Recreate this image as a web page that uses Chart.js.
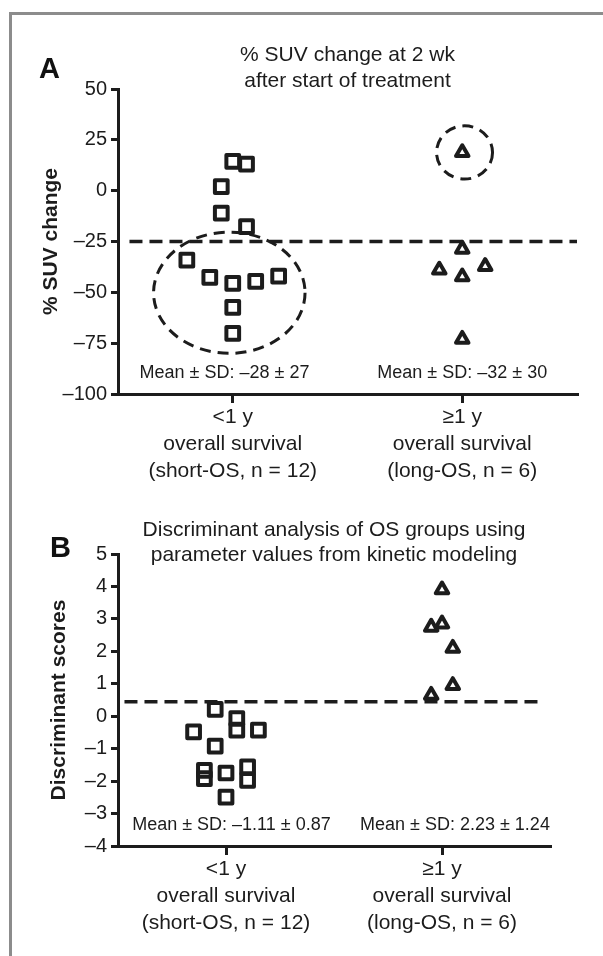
<!DOCTYPE html>
<html>
<head>
<meta charset="utf-8">
<title>SUV change and discriminant scores by OS group</title>
<script src="https://cdn.jsdelivr.net/npm/chart.js@4.4.0/dist/chart.umd.min.js"></script>
<style>
  body { margin: 0; background: #fff; width: 603px; height: 956px; overflow: hidden; position: relative;
         font-family: 'Liberation Sans', Arial, Helvetica, sans-serif; }
  .frame { position: absolute; left: 9px; top: 12px; width: 700px; height: 1000px;
           border-left: 3px solid #8c8c8c; border-top: 3px solid #8c8c8c; }
  .panel { position: absolute; left: 0; }
  .letter { position: absolute; font-weight: bold; font-size: 29px; color: #111; }
</style>
</head>
<body>
<div class="frame"></div>
<div class="panel" style="top:0"><canvas id="chartA" width="603" height="490"></canvas></div>
<div class="panel" style="top:480px"><canvas id="chartB" width="603" height="476"></canvas></div>
<div class="letter" style="left:39px;top:52px">A</div>
<div class="letter" style="left:50px;top:531px">B</div>

<script>
// ---- data ----
var groupPositions = [0, 1];
var groupLabels = [
    ['<1 y', 'overall survival', '(short-OS, n = 12)'],
    ['\u22651 y', 'overall survival', '(long-OS, n = 6)']
];

// panel A: % SUV change at 2 wk
var shortJitterA = [0, 0.06, -0.05, -0.05, 0.06, -0.2, -0.1, 0, 0.1, 0.2, 0, 0];
var shortSuvChange = [14.4, 13.1, 2.0, -11.0, -17.7, -34.1, -42.6, -45.6, -44.6, -42.0, -57.4, -70.2];
var longJitterA = [0, 0, -0.1, 0, 0.1, 0];
var longSuvChange = [18.8, -28.7, -39.0, -42.3, -37.2, -73.0];
var cutoffA = -25;
var meanTextA = ['Mean \u00b1 SD: \u201328 \u00b1 27', 'Mean \u00b1 SD: \u201332 \u00b1 30'];

// panel B: discriminant scores
var shortJitterB = [-0.05, 0.05, 0.05, -0.15, 0.15, -0.05, -0.1, -0.1, 0, 0.1, 0.1, 0];
var shortScores = [0.21, -0.07, -0.43, -0.48, -0.43, -0.92, -1.67, -1.92, -1.75, -1.56, -1.98, -2.49];
var longJitterB = [0, -0.05, 0, 0.05, 0.05, -0.05];
var longScores = [3.9, 2.75, 2.85, 2.1, 0.95, 0.65];
var cutoffB = 0.45;
var meanTextB = ['Mean \u00b1 SD: \u20131.11 \u00b1 0.87', 'Mean \u00b1 SD: 2.23 \u00b1 1.24'];

// dashed rings drawn round groups in panel A (data units)
var ringX = [-0.015, 1.01];
var ringY = [-50.2, 18.8];
var ringRadiusX = [0.33, 0.122];
var ringRadiusY = [29.8, 13.1];

var FONT = "'Liberation Sans', Arial, Helvetica, sans-serif";
var INK = '#1c1c1c';

function toPoints(centre, jitter, values) {
    var pts = [];
    for (var i = 0; i < values.length; i++) {
        pts.push({ x: centre + jitter[i], y: values[i] });
    }
    return pts;
}

function dashMinus(v) {
    return v < 0 ? '\u2013' + Math.abs(v) : String(v);
}

// draws the dashed rings and the mean +/- SD notes through the chart's scales
var panelNotes = {
    id: 'panelNotes',
    beforeDatasetsDraw: function (chart) {
        // rounded corners on the square / triangle outlines
        chart.ctx.lineJoin = 'round';
    },
    afterDatasetsDraw: function (chart, args, opts) {
        var ctx = chart.ctx;
        var xs = chart.scales.x, ys = chart.scales.y;
        ctx.save();
        var rings = opts.rings || [];
        for (var i = 0; i < rings.length; i++) {
            var r = rings[i];
            var cx = xs.getPixelForValue(r.x), cy = ys.getPixelForValue(r.y);
            var rx = Math.abs(xs.getPixelForValue(r.x + r.rx) - cx);
            var ry = Math.abs(ys.getPixelForValue(r.y + r.ry) - cy);
            ctx.beginPath();
            ctx.setLineDash([11, 7]);
            ctx.lineWidth = 3;
            ctx.strokeStyle = INK;
            ctx.ellipse(cx, cy, rx, ry, 0, 0, Math.PI * 2);
            ctx.stroke();
        }
        ctx.setLineDash([]);
        ctx.fillStyle = INK;
        ctx.font = '18px ' + FONT;
        ctx.textAlign = 'center';
        ctx.textBaseline = 'middle';
        var notes = opts.notes || [];
        for (var j = 0; j < notes.length; j++) {
            ctx.fillText(notes[j].text, xs.getPixelForValue(notes[j].x), ys.getPixelForValue(notes[j].y));
        }
        ctx.restore();
        ctx.lineJoin = 'miter';
    }
};

function makeChart(id, p) {
    return new Chart(document.getElementById(id), {
        type: 'scatter',
        plugins: [panelNotes],
        data: {
            datasets: [{
                    data: p.short,
                    pointStyle: 'rect',
                    pointRadius: 9,
                    borderWidth: 4,
                    pointBorderWidth: 4,
                    borderColor: INK,
                    backgroundColor: 'rgba(0,0,0,0)'
                }, {
                    data: p.long,
                    pointStyle: 'triangle',
                    pointRadius: 7.2,
                    borderWidth: 4,
                    pointBorderWidth: 4,
                    borderColor: INK,
                    backgroundColor: 'rgba(0,0,0,0)'
                }, {
                    type: 'line',
                    data: p.cut,
                    showLine: true,
                    borderDash: [13, 7],
                    borderWidth: 3.5,
                    borderColor: INK,
                    pointRadius: 0
                }]
        },
        options: {
            responsive: false,
            animation: false,
            layout: { padding: { left: 0, right: p.padRight, top: 0, bottom: 0 } },
            plugins: {
                legend: { display: false },
                tooltip: { enabled: false },
                title: {
                    display: true,
                    fullSize: false,
                    text: p.title,
                    color: INK,
                    font: { family: FONT, size: 21, weight: 'normal', lineHeight: 1.22 },
                    padding: { top: p.titleTop, bottom: p.titleBottom }
                },
                panelNotes: { rings: p.rings, notes: p.notes }
            },
            scales: {
                x: {
                    type: 'linear',
                    min: -0.5,
                    max: 1.5,
                    afterBuildTicks: function (axis) {
                        axis.ticks = groupPositions.map(function (v) { return { value: v }; });
                    },
                    afterFit: function (axis) { axis.height = p.xAxisHeight; },
                    grid: { display: true, drawOnChartArea: false, drawTicks: true, tickLength: 9, lineWidth: 3, color: INK },
                    border: { display: true, width: 3, color: INK },
                    ticks: {
                        color: INK,
                        padding: 1,
                        maxRotation: 0,
                        autoSkip: false,
                        font: { family: FONT, size: 21, lineHeight: 1.28 },
                        callback: function (v, i) { return groupLabels[i]; }
                    }
                },
                y: {
                    min: p.yMin,
                    max: p.yMax,
                    afterFit: function (axis) { axis.width = 118; },
                    grid: { display: true, drawOnChartArea: false, drawTicks: true, tickLength: 7, lineWidth: 3, color: INK },
                    border: { display: true, width: 3, color: INK },
                    ticks: {
                        stepSize: p.yStep,
                        color: INK,
                        padding: 4,
                        font: { family: FONT, size: 20 },
                        callback: dashMinus
                    },
                    title: {
                        display: true,
                        text: p.yTitle,
                        color: INK,
                        font: { family: FONT, size: 21, weight: 'bold' },
                        padding: { top: p.yTitlePad, bottom: 0 }
                    }
                }
            }
        }
    });
}

makeChart('chartA', {
    short: toPoints(groupPositions[0], shortJitterA, shortSuvChange),
    long: toPoints(groupPositions[1], longJitterA, longSuvChange),
    cut: [{ x: -0.45, y: cutoffA }, { x: 1.5, y: cutoffA }],
    title: ['% SUV change at 2 wk', 'after start of treatment'],
    titleTop: 42.7,
    titleBottom: -4.9,
    padRight: 26,
    xAxisHeight: 96,
    yMin: -100, yMax: 50, yStep: 25,
    yTitle: '% SUV change',
    yTitlePad: 39,
    rings: ringX.map(function (x, i) {
        return { x: x, y: ringY[i], rx: ringRadiusX[i], ry: ringRadiusY[i] };
    }),
    notes: [
        { text: meanTextA[0], x: -0.036, y: -89.9 },
        { text: meanTextA[1], x: 1.0, y: -89.9 }
    ]
});

makeChart('chartB', {
    short: toPoints(groupPositions[0], shortJitterB, shortScores),
    long: toPoints(groupPositions[1], longJitterB, longScores),
    cut: [{ x: -0.47, y: cutoffB }, { x: 1.47, y: cutoffB }],
    title: ['Discriminant analysis of OS groups using', 'parameter values from kinetic modeling'],
    titleTop: 37,
    titleBottom: -14.2,
    padRight: 53,
    xAxisHeight: 110,
    yMin: -4, yMax: 5, yStep: 1,
    yTitle: 'Discriminant scores',
    yTitlePad: 47,
    rings: [],
    notes: [
        { text: meanTextB[0], x: 0.025, y: -3.36 },
        { text: meanTextB[1], x: 1.06, y: -3.36 }
    ]
});
</script>
</body>
</html>
